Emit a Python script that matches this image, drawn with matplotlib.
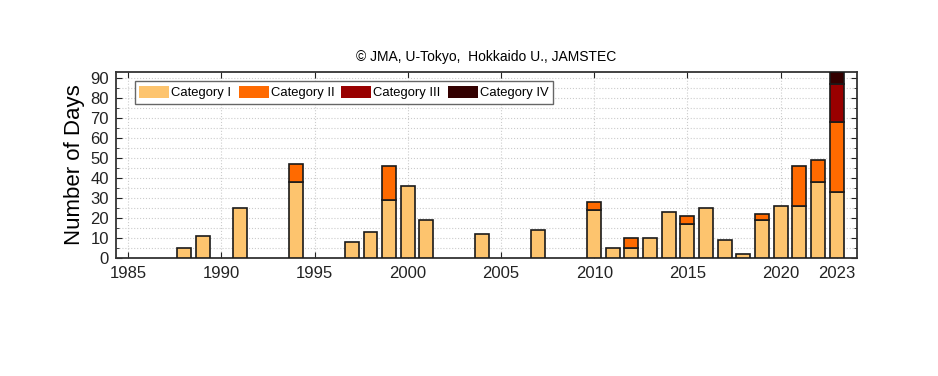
import numpy as np
import matplotlib.pyplot as plt
from matplotlib.ticker import MultipleLocator

plt.rcParams['font.family'] = ['Liberation Sans', 'DejaVu Sans']

# Dias por anio y categoria
years = np.arange(1985, 2024)
cat1 = {1988: 5, 1989: 11, 1991: 25, 1994: 38, 1997: 8, 1998: 13, 1999: 29, 2000: 36,
        2001: 19, 2004: 12, 2007: 14, 2010: 24, 2011: 5, 2012: 5, 2013: 10, 2014: 23,
        2015: 17, 2016: 25, 2017: 9, 2018: 2, 2019: 19, 2020: 26, 2021: 26, 2022: 38,
        2023: 33}
cat2 = {1994: 9, 1999: 17, 2010: 4, 2012: 5, 2015: 4, 2019: 3, 2021: 20, 2022: 11,
        2023: 35}
cat3 = {2023: 19}
cat4 = {2023: 6}
labels = ['Category I', 'Category II', 'Category III', 'Category IV']
colors = ['#fdc46e', '#ff6a00', '#990000', '#330000']

fig = plt.figure(figsize=(9.38, 3.76), dpi=100)
ax = fig.add_axes([0.1237, 0.3138, 0.79, 0.4947])

base = np.zeros(len(years))
for d, lab, col in zip([cat1, cat2, cat3, cat4], labels, colors):
    v = np.array([d.get(y, 0) for y in years], dtype=float)
    m = v > 0
    ax.bar(years[m], v[m], 0.75, bottom=base[m], color=col, edgecolor='#1a1a1a',
           linewidth=1.2, label=lab, zorder=3)
    base = base + v

ax.set_xlim(1984.35, 2024.1)
ax.set_ylim(0, 93)
ax.set_xticks([1985, 1990, 1995, 2000, 2005, 2010, 2015, 2020, 2023])
ax.yaxis.set_major_locator(MultipleLocator(10))
ax.yaxis.set_minor_locator(MultipleLocator(5))
ax.tick_params(axis='both', which='both', direction='in', top=True, right=True,
               labelsize=12, colors='#222222')
ax.tick_params(axis='y', which='major', length=4, pad=5)
ax.tick_params(axis='y', which='minor', length=2.5)
ax.tick_params(axis='x', length=4, pad=6)
for s in ax.spines.values():
    s.set_linewidth(1.3)
    s.set_color('#333333')

ax.grid(True, axis='y', which='both', linestyle=':', color='#cccccc', linewidth=0.8, zorder=0)
for x in [1985, 1990, 1995, 2000, 2005, 2010, 2015, 2020]:
    ax.axvline(x, linestyle=':', color='#cccccc', linewidth=0.8, zorder=0)

ax.set_ylabel('Number of Days', fontsize=16, labelpad=4)
ax.set_title('\u00a9 JMA, U-Tokyo,  Hokkaido U., JAMSTEC', fontsize=10, pad=8)

leg = ax.legend(loc='upper left', ncol=4, fontsize=9.4, frameon=True, fancybox=False,
                edgecolor='#666666', framealpha=1, handlelength=2.3, handleheight=1.0,
                handletextpad=0.15, columnspacing=0.55, borderpad=0.35,
                bbox_to_anchor=(0.0165, 0.985))
leg.get_frame().set_linewidth(1.0)
for h in leg.legend_handles:
    h.set_edgecolor('none')

fig.savefig('out.png', dpi=100)
